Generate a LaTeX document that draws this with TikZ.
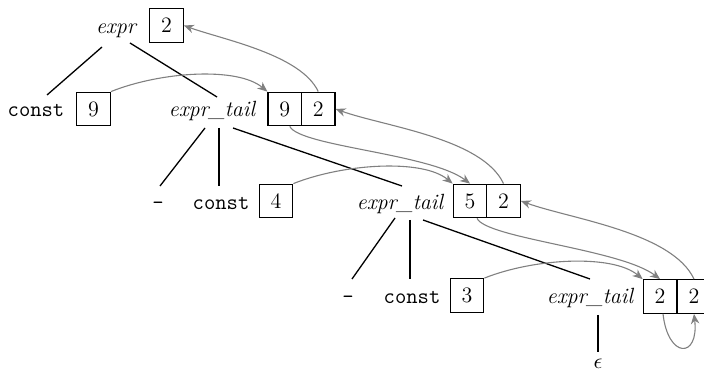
\documentclass[tikz,border=0pt]{standalone}
\usetikzlibrary{arrows.meta,calc}
\begin{document}
\begin{tikzpicture}[x=0.5pt,y=0.5pt,
  lbl/.style={anchor=base,inner sep=0pt,font=\fontsize{11}{13}\selectfont},
  nt/.style={anchor=base,inner sep=0pt,font=\fontsize{11}{13}\selectfont\itshape},
  tm/.style={anchor=base,inner sep=0pt,font=\fontsize{11}{13}\selectfont\ttfamily},
  val/.style={draw,line width=0.65pt,minimum width=16.75pt,minimum height=16.75pt,inner sep=0pt,font=\fontsize{11}{13}\selectfont},
  treeline/.style={line width=0.65pt},
  attr/.style={draw=gray,line width=0.55pt,-{Stealth[length=5pt,width=4.2pt,inset=1.6pt]}}]
\clip (0,0) rectangle (704,373);
% nodes
\node[nt] (expr) at (116,339) {expr};
\node[val] (v0) at (166.5,347.5) {2};
\node[tm] (k1) at (36,256) {const};
\node[val] (v1) at (93.5,264) {9};
\node[nt] (t1) at (212,256) {expr\_tail};
\node[val] (a1) at (284.75,264) {9};
\node[val] (b1) at (318.25,264) {2};
\node[tm] (m2) at (158,163) {-};
\node[tm] (k2) at (221,163) {const};
\node[val] (v2) at (276,172) {4};
\node[nt] (t2) at (400,163) {expr\_tail};
\node[val] (a2) at (470,172) {5};
\node[val] (b2) at (503.5,172) {2};
\node[tm] (m3) at (348,69) {-};
\node[tm] (k3) at (412,69) {const};
\node[val] (v3) at (467,77.5) {3};
\node[nt] (t3) at (590,69) {expr\_tail};
\node[val] (a3) at (660,76.5) {2};
\node[val] (b3) at (694,76.5) {2};
\node[lbl] (eps) at (598,4) {$\epsilon$};
% tree edges
\draw[treeline] ($(expr.base)+(-14,-13)$) -- ($(k1.base)+(11,22)$);
\draw[treeline] ($(expr.base)+(14,-9)$) -- ($(t1.base)+(5,20)$);
\draw[treeline] ($(t1.base)+(-7,-11)$) -- ($(m2.base)+(2,24)$);
\draw[treeline] ($(t1.base)+(7,-11)$) -- ($(k2.base)+(-2,24)$);
\draw[treeline] ($(t1.base)+(21,-11)$) -- ($(t2.base)+(2,24)$);
\draw[treeline] ($(t2.base)+(-5,-8)$) -- ($(m3.base)+(4,25)$);
\draw[treeline] ($(t2.base)+(10,-10)$) -- ($(k3.base)+(-2,25)$);
\draw[treeline] ($(t2.base)+(23,-10)$) -- ($(t3.base)+(0,25)$);
\draw[treeline] ($(t3.base)+(8,-11)$) -- ($(eps.base)+(0,17)$);
% attribute flow
\draw[attr] (v1.north east) .. controls +(50,20) and +(-30,25) .. (a1.north west);
\draw[attr] (v2.north east) .. controls +(50,20) and +(-30,25) .. (a2.north west);
\draw[attr] (v3.north east) .. controls +(50,20) and +(-30,25) .. (a3.north west);
\draw[attr] ($(a1.south)+(5,0)$) .. controls +(10,-20) and +(-40,30) .. (a2.north);
\draw[attr] ($(a2.south)+(7,0)$) .. controls +(10,-20) and +(-40,30) .. (a3.north);
\draw[attr] (b1.north) to[out=115,in=-20,looseness=0.7] (v0.east);
\draw[attr] (b2.north) to[out=115,in=-20,looseness=0.7] (b1.east);
\draw[attr] (b3.north) to[out=115,in=-20,looseness=0.7] (b2.east);
\draw[attr] ($(a3.south)+(3,0)$) .. controls +(5,-45) and +(5,-45) .. (b3.south);
\end{tikzpicture}
\end{document}
